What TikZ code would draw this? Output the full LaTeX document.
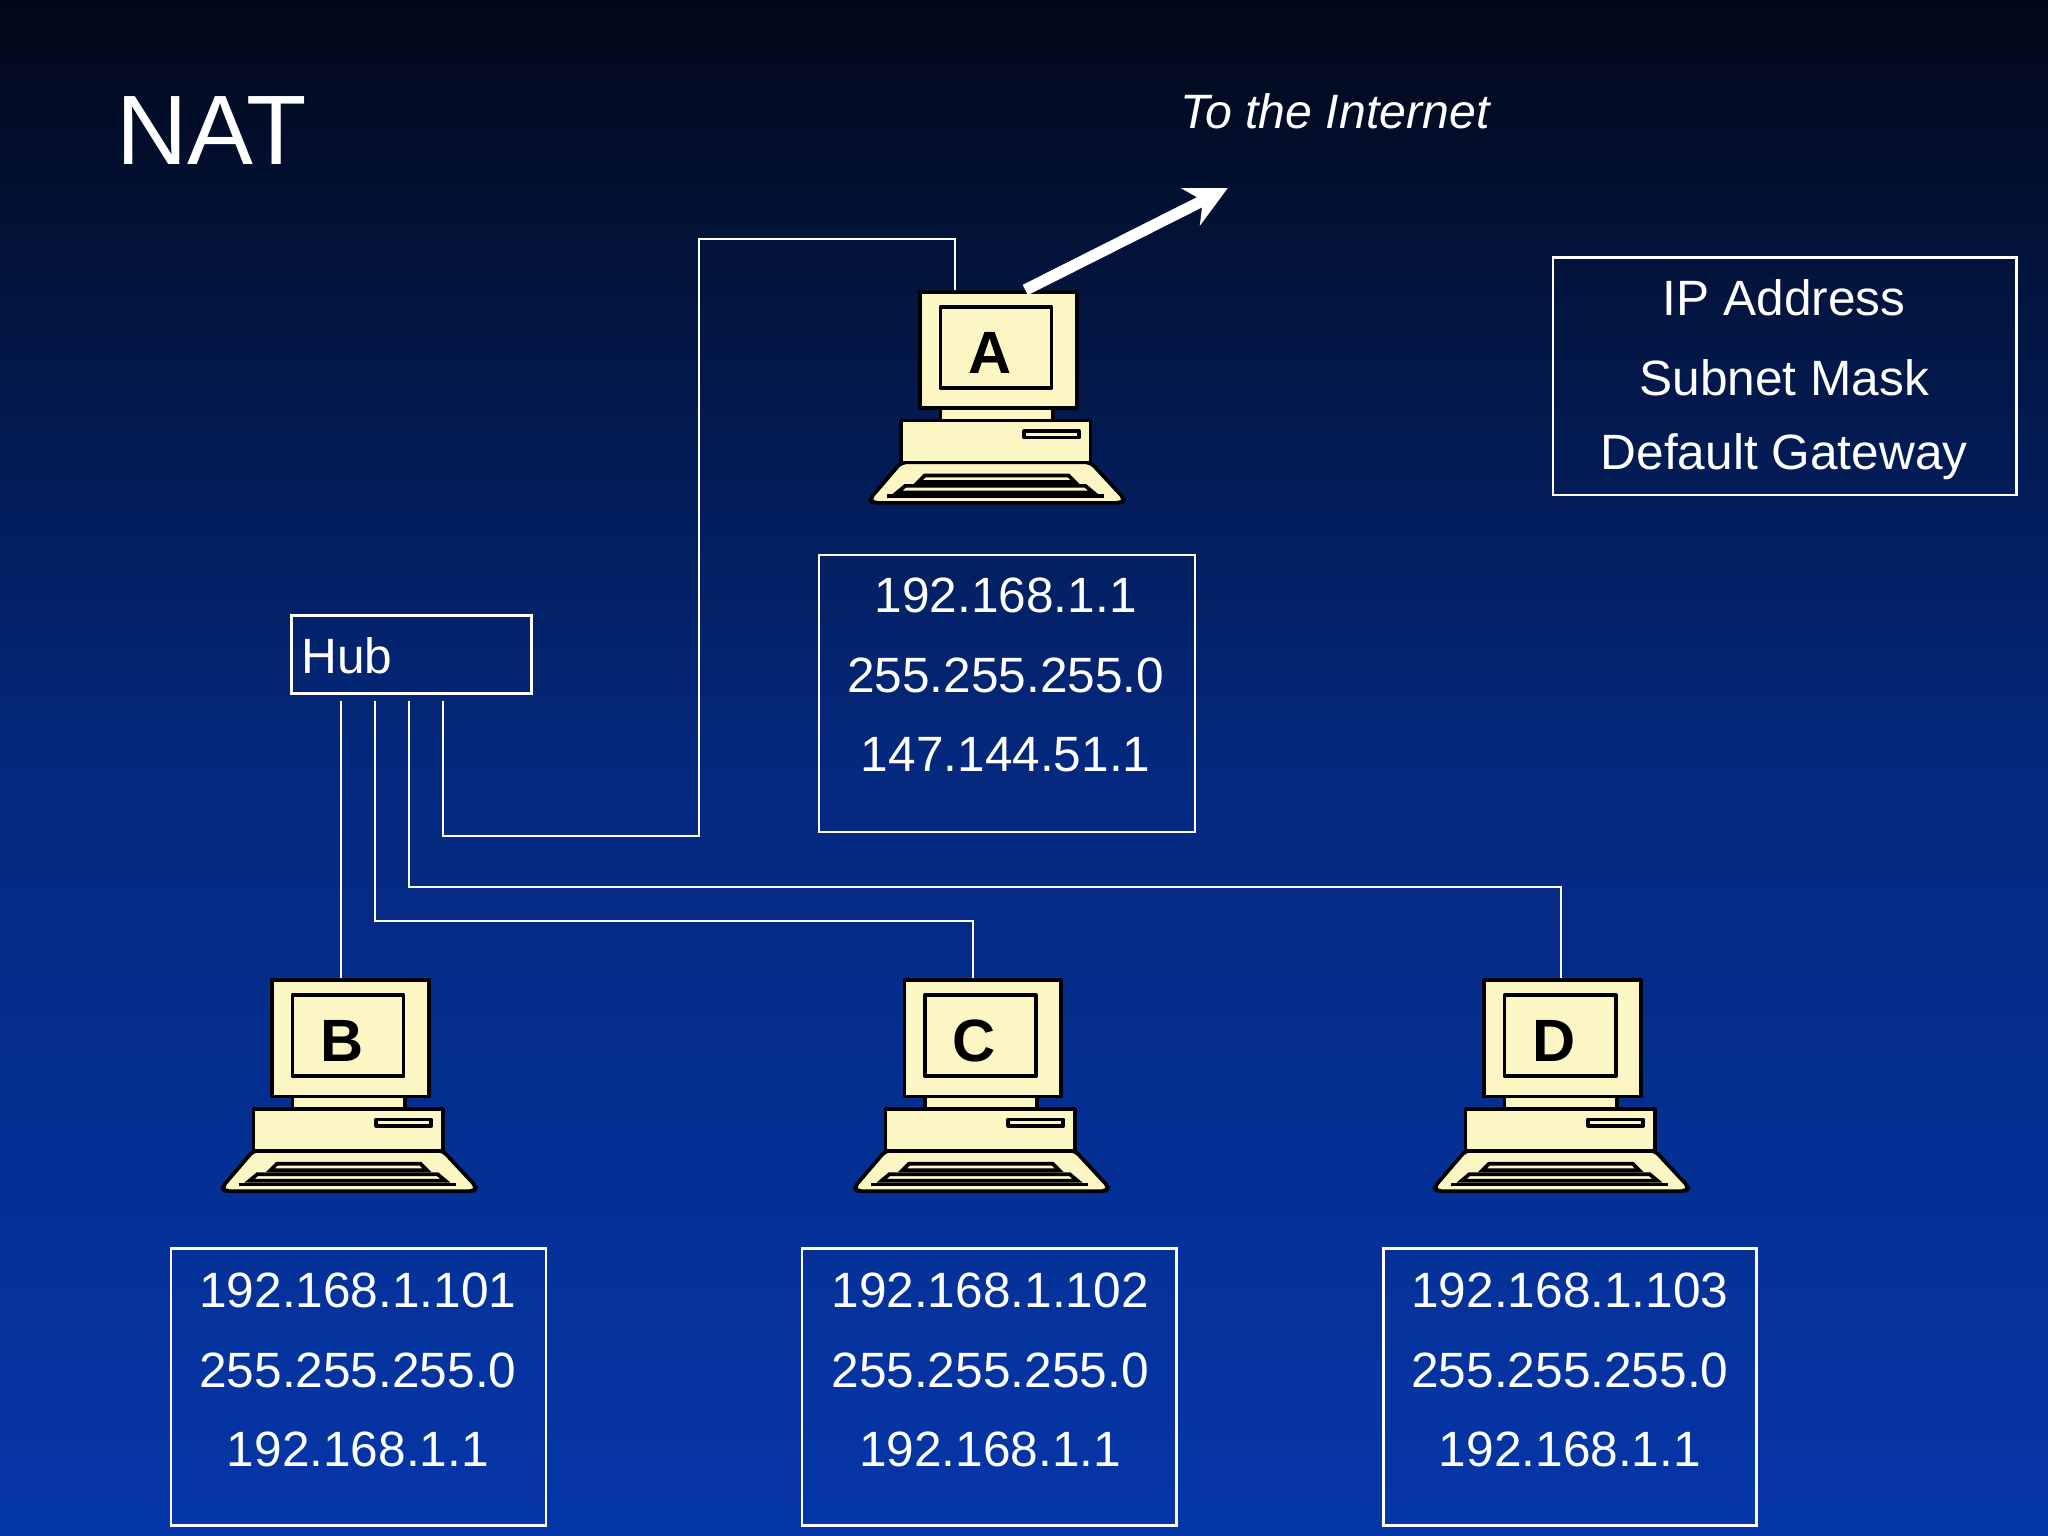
\documentclass[tikz,border=0pt]{standalone}
\usepackage{fontspec}
\setmainfont{Liberation Sans}
\usetikzlibrary{arrows.meta}
\definecolor{beige}{HTML}{FBF6C4}
\definecolor{bgtop}{HTML}{020818}
\definecolor{bgbot}{HTML}{0536A8}
\tikzset{
 info/.style={draw=white,line width=0.6pt},
 itxt/.style={text=white,font=\fontsize{10.8pt}{12pt}\selectfont,inner sep=0pt},
 wire/.style={draw=white,line width=0.5pt},
 part/.style={draw=black,fill=beige,line width=0.8pt,line join=round},
}
\newcommand{\computer}[4]{%
\begin{scope}[shift={(#2,#3)}]
 \draw[part,rounded corners=1pt] (-13,132) -- (132,132) -- (158,160) -- (156,163) -- (-35,163) -- (-37,160) -- cycle;
 \draw[part] (-13,100) rectangle (132,132);
 \draw[part] (81,108) rectangle (123,113);
 \draw[part] (17,89) rectangle (103,100);
 \node[part,minimum width=1.2cm,minimum height=0.89cm,anchor=north west,inner sep=0pt] (#1) at (0,0) {};
 \draw[part] (17,13) rectangle (102,75);
 \node[font=\bfseries\fontsize{13pt}{13pt}\selectfont,inner sep=0pt] (#1l) at (55,48) {#4};
 \draw[black,line width=0.8pt] (5,142) -- (115,142) -- (120,147) -- (0,147) -- cycle;
 \draw[black,line width=0.8pt] (-10,150) -- (128,150) -- (134,155) -- (-16,155) -- cycle;
 \draw[black,line width=0.8pt] (-24,158) -- (142,158);
\end{scope}}
\begin{document}
\begin{tikzpicture}[x=0.01cm,y=-0.01cm]
\useasboundingbox (0,0) rectangle (1568,1176);
\shade[top color=bgtop,bottom color=bgbot,middle color=bgbot!75!black] (0,0) rectangle (1568,1176);
\node[text=white,font=\fontsize{21.5pt}{22pt}\selectfont,inner sep=0pt] (title) at (162,100) {NAT};
\node[text=white,font=\itshape\fontsize{10.5pt}{12pt}\selectfont,inner sep=0pt] (inet) at (1022,85) {To the Internet};
\coordinate (net) at (940,144);
% legend
\draw[info] (1189,197) rectangle (1544,379);
\node[itxt] (l1) at (1366,228) {IP Address};
\node[itxt] (l2) at (1366,289) {Subnet Mask};
\node[itxt] (l3) at (1366,350) {Default Gateway};
% hub
\node[draw=white,line width=0.6pt,minimum width=1.84cm,minimum height=0.6cm,anchor=north west,inner sep=0pt] (hub) at (222,470) {};
\node[itxt,anchor=west] (hubt) at (230,502) {Hub};
\computer{A}{703}{222}{A}
\computer{B}{207}{749}{B}
\computer{C}{691}{749}{C}
\computer{D}{1135}{749}{D}
% wires
\draw[wire] (261,537) -- (B.north-|261,0);
\draw[wire] (287,537) -- (287,705) -- (745,705) -- (C.north-|745,0);
\draw[wire] (313,537) -- (313,679) -- (1195,679) -- (D.north-|1195,0);
\draw[wire] (339,537) -- (339,640) -- (535,640) -- (535,183) -- (731,183) -- (A.north-|731,0);
\draw[white,line width=2.5pt,-{Stealth[length=9pt,width=9pt]}] (A.north-|785,0) -- (net);
% info boxes
\draw[info] (627,425) rectangle (915,637);
\node[itxt] at (770,456) {192.168.1.1};
\node[itxt] at (770,517) {255.255.255.0};
\node[itxt] at (770,578) {147.144.51.1};
\draw[info] (131,956) rectangle (418,1168);
\node[itxt] at (274,988) {192.168.1.101};
\node[itxt] at (274,1049) {255.255.255.0};
\node[itxt] at (274,1110) {192.168.1.1};
\draw[info] (614,956) rectangle (901,1168);
\node[itxt] at (758,988) {192.168.1.102};
\node[itxt] at (758,1049) {255.255.255.0};
\node[itxt] at (758,1110) {192.168.1.1};
\draw[info] (1059,956) rectangle (1345,1168);
\node[itxt] at (1202,988) {192.168.1.103};
\node[itxt] at (1202,1049) {255.255.255.0};
\node[itxt] at (1202,1110) {192.168.1.1};
\end{tikzpicture}
\end{document}
